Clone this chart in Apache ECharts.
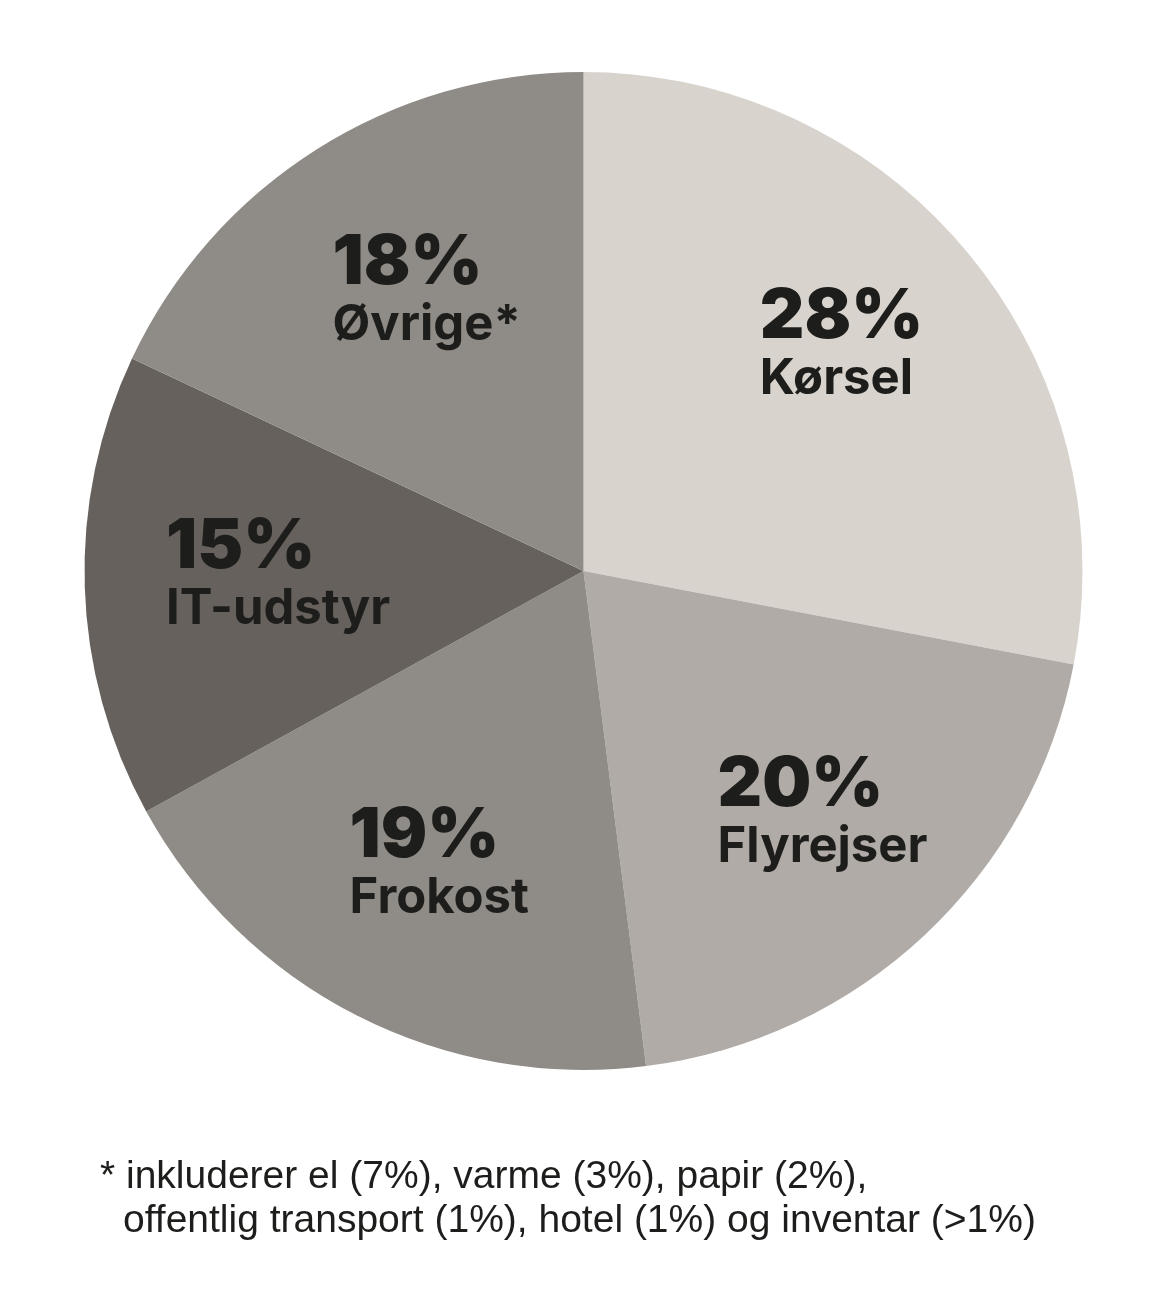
<!DOCTYPE html>
<html><head><meta charset="utf-8">
<script src="https://cdn.jsdelivr.net/npm/echarts@6/dist/echarts.min.js"></script>
<style>html,body{margin:0;padding:0;background:#fff}#c{width:1166px;height:1294px}</style>
</head><body><div id="c"></div>
<script>
const categories = ['Kørsel', 'Flyrejser', 'Frokost', 'IT-udstyr', 'Øvrige*'];
const values = [28, 20, 19, 15, 18];
const colors = ['#d8d3cd', '#b0aba6', '#8f8b86', '#67615d', '#8f8b86'];
const footnoteLines = ['* inkluderer el (7%), varme (3%), papir (2%),', 'offentlig transport (1%), hotel (1%) og inventar (>1%)'];
const labelNudge = [[-2, -10], [8, -3], [9, -6], [32, -5], [24, 6]];

const chart = echarts.init(document.getElementById('c'), null, {renderer: 'canvas'});
const center = [583.5, 571];
const baseData = categories.map((c, i) => ({name: c, value: values[i], itemStyle: {color: colors[i]}}));
const labelData = categories.map((c, i) => ({name: c, value: values[i], label: {offset: labelNudge[i]}}));
chart.setOption({
  animation: false,
  series: [
    {type: 'pie', center: center, radius: 499, startAngle: 90, clockwise: true, silent: true,
     label: {show: false}, labelLine: {show: false}, itemStyle: {borderWidth: 0}, data: baseData},
    {type: 'pie', center: center, radius: [170, 499], startAngle: 90, clockwise: true, silent: true,
     itemStyle: {color: 'rgba(0,0,0,0)', borderWidth: 0}, labelLine: {show: false},
     label: {show: true, position: 'inside', color: '#1d1d1b',
       formatter: p => '{p|' + p.value + '%}\n{n|' + p.name + '}',
       rich: {
         p: {fontFamily: 'Inter', fontWeight: 900, fontSize: 69, lineHeight: 66, color: '#1d1d1b', align: 'left'},
         n: {fontFamily: 'Inter', fontWeight: 700, fontSize: 49, lineHeight: 58, color: '#1d1d1b', align: 'left'}
       }},
     data: labelData}
  ],
  graphic: footnoteLines.map((t, i) => ({type: 'text', left: i === 0 ? 100 : 123, top: 1158 + i * 44,
    style: {text: t, fontFamily: 'Liberation Sans', fontSize: 39, fill: '#1d1d1b'}}))
});
</script></body></html>
